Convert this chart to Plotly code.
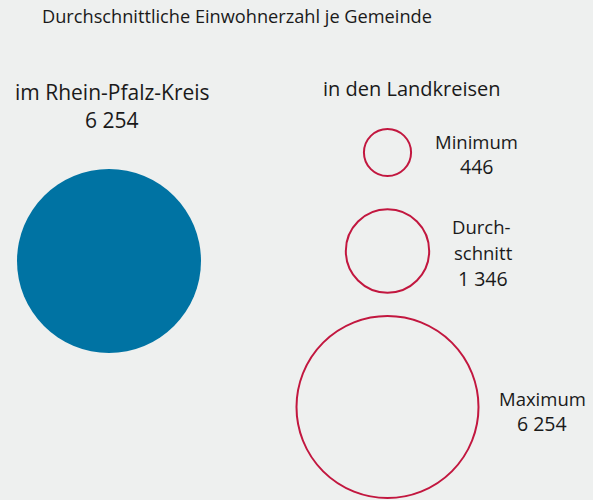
import plotly.graph_objects as go
import math

# ---- data ----
title = "Durchschnittliche Einwohnerzahl je Gemeinde"
group_labels = ["im Rhein-Pfalz-Kreis", "in den Landkreisen"]
kreis_value = 6254
kreis_value_label = "6 254"
land_categories = ["Minimum", "Durchschnitt", "Maximum"]
land_values = [446, 1346, 6254]
land_label_lines = [["Minimum", "446"], ["Durch-", "schnitt", "1 346"], ["Maximum", "6 254"]]

# ---- style / layout ----
BG = "#eef0ef"
BLUE = "#0073a3"
RED = "#c2173f"
TXT = "#1a1a1a"
FONT = "Open Sans"
R_MAX = 92.0
v_max = max(land_values + [kreis_value])

def radius(v):
    return R_MAX * math.sqrt(v / v_max)

W, H = 598, 500
PW = 593

fig = go.Figure()

# filled circle for Rhein-Pfalz-Kreis
fig.add_trace(go.Scatter(
    x=[109], y=[261], mode="markers",
    marker=dict(size=[2 * radius(kreis_value)], color=BLUE, opacity=1, line=dict(width=0)),
    hoverinfo="skip", showlegend=False))

# outlined circles for Landkreise
land_cx = [387.5, 387.5, 387.5]
land_cy = [152.5, 251, 407]
fig.add_trace(go.Scatter(
    x=land_cx, y=land_cy, mode="markers",
    marker=dict(size=[2 * radius(v) - 2 for v in land_values], color="rgba(0,0,0,0)",
                opacity=1, line=dict(width=2, color=RED)),
    hoverinfo="skip", showlegend=False))

ann = []
def txt(x, y, s, size, xanchor="center"):
    ann.append(dict(x=x, y=y, xref="x", yref="y", text=s, showarrow=False,
                    xanchor=xanchor, yanchor="middle",
                    font=dict(family=FONT, size=size, color=TXT)))

txt(40, 16, title, 18.2, xanchor="left")
txt(112.5, 92, group_labels[0], 21)
txt(111.5, 120, kreis_value_label, 21)
txt(411.5, 88.5, group_labels[1], 20)

label_pos = [
    [(476, 141.5), (476, 166)],
    [(481.5, 226.5), (483.5, 252), (482.5, 278)],
    [(542.5, 398), (542, 423)],
]
for lines, poss in zip(land_label_lines, label_pos):
    for s, (x, y) in zip(lines, poss):
        size = 19.5 if s[0].isdigit() else 18.5
        txt(x, y, s, size)

fig.update_layout(
    width=W, height=H,
    margin=dict(l=0, r=W - PW, t=0, b=0),
    paper_bgcolor="white", plot_bgcolor=BG,
    xaxis=dict(range=[0, PW], visible=False, fixedrange=True),
    yaxis=dict(range=[H, 0], visible=False, fixedrange=True),
    annotations=ann,
    showlegend=False,
)

fig.write_html("out.html", config={"displayModeBar": False},
               post_script="document.body.style.margin='0';document.body.style.overflow='hidden';")
